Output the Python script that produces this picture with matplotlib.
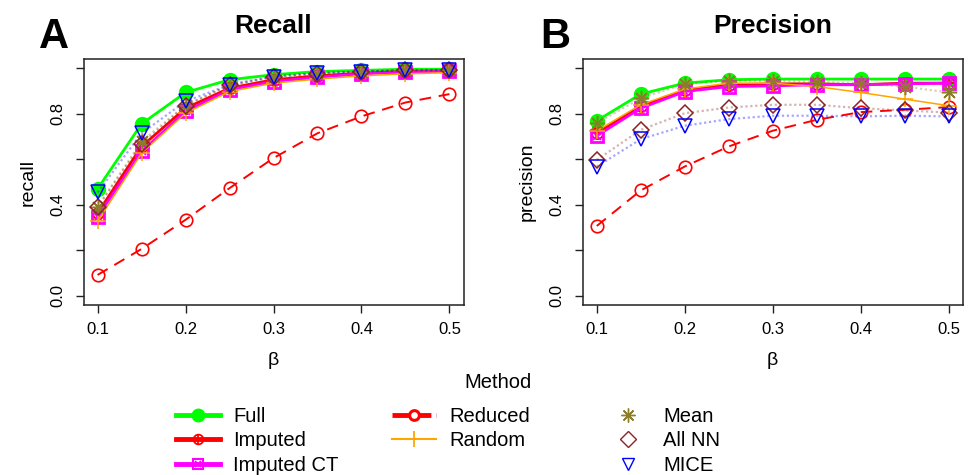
import numpy as np
import matplotlib
matplotlib.use("Agg")
import matplotlib.pyplot as plt
from matplotlib.lines import Line2D
from matplotlib.legend_handler import HandlerTuple

plt.rcParams['font.family'] = ['Liberation Sans', 'DejaVu Sans']

# === Data ===
beta = [0.10, 0.15, 0.20, 0.25, 0.30, 0.35, 0.40, 0.45, 0.50]

recall_full = [0.470, 0.755, 0.893, 0.949, 0.971, 0.985, 0.990, 0.995, 0.995]
recall_imputed = [0.363, 0.656, 0.824, 0.912, 0.949, 0.966, 0.978, 0.985, 0.988]
recall_imputed_ct = [0.348, 0.634, 0.810, 0.905, 0.941, 0.960, 0.975, 0.983, 0.986]
recall_reduced = [0.092, 0.206, 0.334, 0.473, 0.605, 0.714, 0.788, 0.849, 0.886]
recall_random = [0.327, 0.627, 0.802, 0.897, 0.934, 0.952, 0.966, 0.975, 0.980]
recall_mean = [0.392, 0.678, 0.839, 0.922, 0.959, 0.975, 0.985, 0.990, 0.990]
recall_allnn = [0.389, 0.666, 0.835, 0.927, 0.963, 0.976, 0.985, 0.990, 0.992]
recall_mice = [0.454, 0.714, 0.854, 0.927, 0.963, 0.978, 0.985, 0.990, 0.990]

prec_full = [0.769, 0.886, 0.934, 0.949, 0.952, 0.952, 0.952, 0.952, 0.952]
prec_imputed = [0.714, 0.832, 0.902, 0.927, 0.931, 0.931, 0.927, 0.934, 0.934]
prec_imputed_ct = [0.703, 0.824, 0.897, 0.919, 0.922, 0.927, 0.927, 0.931, 0.934]
prec_reduced = [0.307, 0.463, 0.568, 0.656, 0.725, 0.773, 0.807, 0.817, 0.829]
prec_random = [0.725, 0.839, 0.908, 0.934, 0.934, 0.919, 0.893, 0.864, 0.835]
prec_mean = [0.758, 0.868, 0.930, 0.944, 0.944, 0.939, 0.934, 0.919, 0.893]
prec_allnn = [0.597, 0.729, 0.802, 0.827, 0.839, 0.839, 0.824, 0.814, 0.805]
prec_mice = [0.568, 0.688, 0.747, 0.776, 0.791, 0.791, 0.788, 0.791, 0.788]

# === Styles ===
GREEN = '#00ff00'
RED = '#ff0000'
MAGENTA = '#ff00ff'
ORANGE = '#ffa500'
OLIVE = '#8b7d2a'
BROWN = '#8b2323'
BLUE = '#0000ff'
ASTER = (8, 2, 0)
DOT = (0, (1, 1.2))

W, H = 972, 475
fig = plt.figure(figsize=(W / 100, H / 100), dpi=100)

def px_axes(x0, y0, x1, y1):
    return fig.add_axes([x0 / W, 1 - y1 / H, (x1 - x0) / W, (y1 - y0) / H])

def draw_panel(ax, full, imp, imp_ct, red, rnd, mean, allnn, mice):
    ax.plot(beta, full, color=GREEN, lw=2, marker='o', ms=10, mec=GREEN, zorder=3)
    ax.plot(beta, imp, color=RED, lw=2, marker='o', ms=8, mfc='none', mew=1.3, zorder=4)
    ax.plot(beta, imp, ls='none', color=RED, marker='+', ms=8, mew=1.3, zorder=4)
    ax.plot(beta, imp_ct, color=MAGENTA, lw=2, marker='s', ms=8, mfc='none', mew=2, zorder=5)
    ax.plot(beta, imp_ct, ls='none', color=MAGENTA, marker='x', ms=6, mew=1.3, zorder=5)
    ax.plot(beta, red, color=RED, lw=1.4, ls=(0, (6, 4)), marker='o', ms=9, mfc='none', mew=1.2, zorder=6)
    ax.plot(beta, rnd, color=ORANGE, lw=1.1, marker='+', ms=12, mew=1.1, zorder=7)
    for ys, c, m, ms in [(mean, OLIVE, ASTER, 11), (allnn, BROWN, 'D', 8), (mice, BLUE, 'v', 10)]:
        ax.plot(beta, ys, color=c, alpha=0.35, lw=1.6, ls=DOT, zorder=8)
        ax.plot(beta, ys, ls='none', color=c, marker=m, ms=ms, mfc='none', mew=1.1, zorder=9)

    ax.set_xlim(0.084, 0.516)
    ax.set_ylim(-0.04, 1.04)
    ax.set_xticks([0.1, 0.2, 0.3, 0.4, 0.5])
    ax.set_xticklabels(['0.1', '0.2', '0.3', '0.4', '0.5'])
    ax.set_yticks([0.0, 0.2, 0.4, 0.6, 0.8, 1.0])
    ax.set_yticklabels(['0.0', '', '0.4', '', '0.8', ''], rotation=90, va='center')
    ax.tick_params(labelsize=12, length=6, width=1, pad=6, color='#222222')
    ax.tick_params(axis='y', pad=7)
    for s in ax.spines.values():
        s.set_color('#222222')
        s.set_linewidth(1.1)
    ax.set_xlabel('β', fontsize=14, labelpad=11)

ax1 = px_axes(83.5, 59, 463.5, 305)
ax2 = px_axes(582.7, 59, 962.7, 305)

draw_panel(ax1, recall_full, recall_imputed, recall_imputed_ct, recall_reduced,
           recall_random, recall_mean, recall_allnn, recall_mice)
draw_panel(ax2, prec_full, prec_imputed, prec_imputed_ct, prec_reduced,
           prec_random, prec_mean, prec_allnn, prec_mice)

ax1.set_ylabel('recall', fontsize=14, labelpad=10)
ax2.set_ylabel('precision', fontsize=14, labelpad=10)
ax1.set_title('Recall', fontsize=19, fontweight='bold', pad=19)
ax2.set_title('Precision', fontsize=19, fontweight='bold', pad=19)
fig.text(54 / W, 1 - 37 / H, 'A', fontsize=30, fontweight='bold', ha='center', va='center')
fig.text(555 / W, 1 - 37 / H, 'B', fontsize=30, fontweight='bold', ha='center', va='center')

# === Legend ===
h_full = Line2D([], [], color=GREEN, lw=3.5, marker='o', ms=9)
h_imp = (Line2D([], [], color=RED, lw=3.5, marker='o', ms=7, mfc='none', mew=1.3),
         Line2D([], [], ls='none', color=RED, marker='+', ms=7, mew=1.3))
h_ct = (Line2D([], [], color=MAGENTA, lw=3.5, marker='s', ms=7, mfc='none', mew=1.5),
        Line2D([], [], ls='none', color=MAGENTA, marker='x', ms=5, mew=1.2))
h_red = Line2D([], [], color=RED, lw=3.5, ls=(0, (3.5, 1)), marker='o', ms=7, mfc='white', mew=2.2)
h_rnd = Line2D([], [], color=ORANGE, lw=1.5, marker='+', ms=12, mew=1.3)
h_mean = Line2D([], [], ls='none', color=OLIVE, marker=ASTER, ms=10, mew=1)
h_allnn = Line2D([], [], ls='none', color=BROWN, marker='D', ms=8, mfc='none', mew=1)
h_mice = Line2D([], [], ls='none', color=BLUE, marker='v', ms=9, mfc='none', mew=1)

cols = [([h_full, h_imp, h_ct], ['Full', 'Imputed', 'Imputed CT'], 176),
        ([h_red, h_rnd], ['Reduced', 'Random'], 392),
        ([h_mean, h_allnn, h_mice], ['Mean', 'All NN', 'MICE'], 606)]
for handles, labels, x0 in cols:
    fig.legend(handles, labels, loc='upper left', bbox_to_anchor=(x0 / W, 1 - 407 / H),
               frameon=False, fontsize=14.5, handlelength=2.2, handletextpad=0.65,
               borderpad=0, borderaxespad=0, labelspacing=0.27,
               handler_map={tuple: HandlerTuple(ndivide=1)})
fig.text(498 / W, 1 - 383 / H, 'Method', fontsize=14.5, ha='center', va='center')

fig.savefig('out.png', dpi=100)
